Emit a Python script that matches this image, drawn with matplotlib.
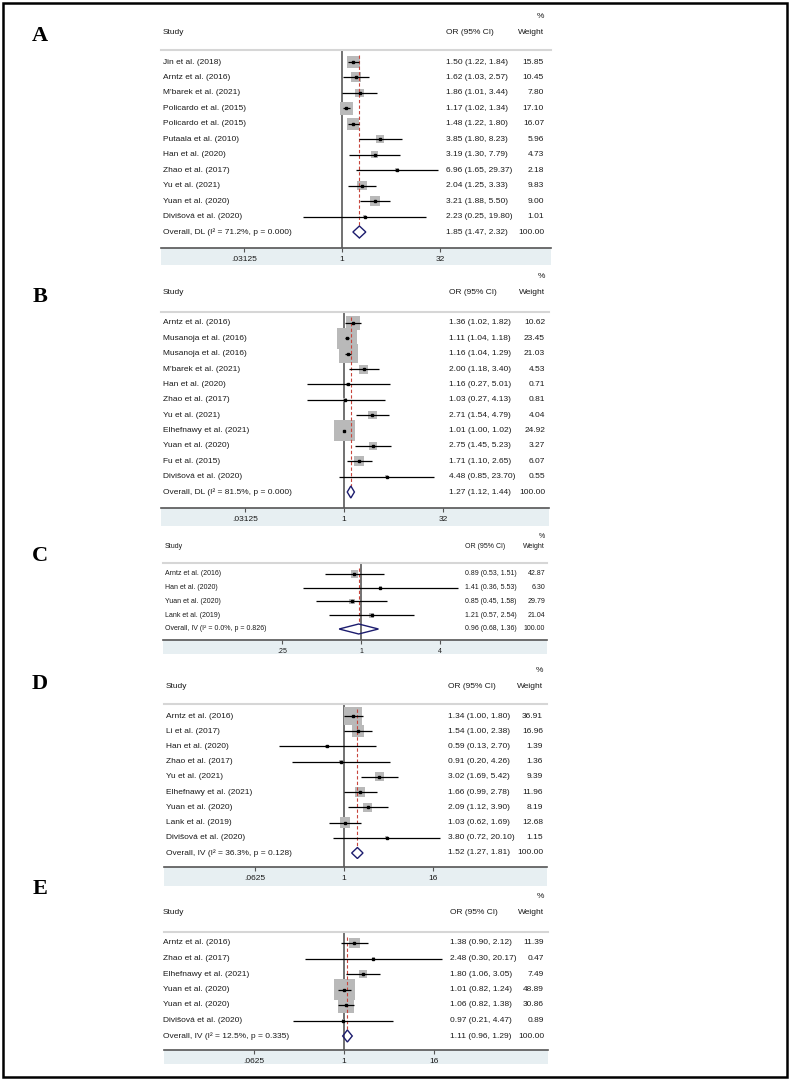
import numpy as np
import matplotlib
matplotlib.use('Agg')
import matplotlib.pyplot as plt
from matplotlib.patches import Rectangle, Polygon
from matplotlib.transforms import blended_transform_factory
from matplotlib.ticker import FixedLocator, FixedFormatter, NullLocator

plt.rcParams['font.family'] = ['Liberation Sans', 'DejaVu Sans']

W, H = 789, 1079

# ---- panel A
studies_a = ["Jin et al. (2018)", "Arntz et al. (2016)", "M'barek et al. (2021)",
             "Policardo et al. (2015)", "Policardo et al. (2015)", "Putaala et al. (2010)",
             "Han et al. (2020)", "Zhao et al. (2017)", "Yu et al. (2021)",
             "Yuan et al. (2020)", "Divišová et al. (2020)"]
or_a = [1.50, 1.62, 1.86, 1.17, 1.48, 3.85, 3.19, 6.96, 2.04, 3.21, 2.23]
lo_a = [1.22, 1.03, 1.01, 1.02, 1.22, 1.80, 1.30, 1.65, 1.25, 1.88, 0.25]
hi_a = [1.84, 2.57, 3.44, 1.34, 1.80, 8.23, 7.79, 29.37, 3.33, 5.50, 19.80]
w_a = [15.85, 10.45, 7.80, 17.10, 16.07, 5.96, 4.73, 2.18, 9.83, 9.00, 1.01]
overall_a = [1.85, 1.47, 2.32]
label_a = "Overall, DL (I² = 71.2%, p = 0.000)"

# ---- panel B
studies_b = ["Arntz et al. (2016)", "Musanoja et al. (2016)", "Musanoja et al. (2016)",
             "M'barek et al. (2021)", "Han et al. (2020)", "Zhao et al. (2017)",
             "Yu et al. (2021)", "Elhefnawy et al. (2021)", "Yuan et al. (2020)",
             "Fu et al. (2015)", "Divišová et al. (2020)"]
or_b = [1.36, 1.11, 1.16, 2.00, 1.16, 1.03, 2.71, 1.01, 2.75, 1.71, 4.48]
lo_b = [1.02, 1.04, 1.04, 1.18, 0.27, 0.27, 1.54, 1.00, 1.45, 1.10, 0.85]
hi_b = [1.82, 1.18, 1.29, 3.40, 5.01, 4.13, 4.79, 1.02, 5.23, 2.65, 23.70]
w_b = [10.62, 23.45, 21.03, 4.53, 0.71, 0.81, 4.04, 24.92, 3.27, 6.07, 0.55]
overall_b = [1.27, 1.12, 1.44]
label_b = "Overall, DL (I² = 81.5%, p = 0.000)"

# ---- panel C
studies_c = ["Arntz et al. (2016)", "Han et al. (2020)", "Yuan et al. (2020)", "Lank et al. (2019)"]
or_c = [0.89, 1.41, 0.85, 1.21]
lo_c = [0.53, 0.36, 0.45, 0.57]
hi_c = [1.51, 5.53, 1.58, 2.54]
w_c = [42.87, 6.30, 29.79, 21.04]
overall_c = [0.96, 0.68, 1.36]
label_c = "Overall, IV (I² = 0.0%, p = 0.826)"

# ---- panel D
studies_d = ["Arntz et al. (2016)", "Li et al. (2017)", "Han et al. (2020)", "Zhao et al. (2017)",
             "Yu et al. (2021)", "Elhefnawy et al. (2021)", "Yuan et al. (2020)",
             "Lank et al. (2019)", "Divišová et al. (2020)"]
or_d = [1.34, 1.54, 0.59, 0.91, 3.02, 1.66, 2.09, 1.03, 3.80]
lo_d = [1.00, 1.00, 0.13, 0.20, 1.69, 0.99, 1.12, 0.62, 0.72]
hi_d = [1.80, 2.38, 2.70, 4.26, 5.42, 2.78, 3.90, 1.69, 20.10]
w_d = [36.91, 16.96, 1.39, 1.36, 9.39, 11.96, 8.19, 12.68, 1.15]
overall_d = [1.52, 1.27, 1.81]
label_d = "Overall, IV (I² = 36.3%, p = 0.128)"

# ---- panel E
studies_e = ["Arntz et al. (2016)", "Zhao et al. (2017)", "Elhefnawy et al. (2021)",
             "Yuan et al. (2020)", "Yuan et al. (2020)", "Divišová et al. (2020)"]
or_e = [1.38, 2.48, 1.80, 1.01, 1.06, 0.97]
lo_e = [0.90, 0.30, 1.06, 0.82, 0.82, 0.21]
hi_e = [2.12, 20.17, 3.05, 1.24, 1.38, 4.47]
w_e = [11.39, 0.47, 7.49, 48.89, 30.86, 0.89]
overall_e = [1.11, 0.96, 1.29]
label_e = "Overall, IV (I² = 12.5%, p = 0.335)"

ticks_32 = [1 / 32, 1, 32]
ticklabels_32 = [".03125", "1", "32"]
ticks_4 = [0.25, 1, 4]
ticklabels_4 = [".25", "1", "4"]
ticks_16 = [1 / 16, 1, 16]
ticklabels_16 = [".0625", "1", "16"]

# pixel layout of each panel
geo = {
    'A': dict(left=161, right=551, x1=342, ppd=19.6, y_pct=16, y_head=32, y_hline=50, y_first=62,
              y_last=232, y_axis=248, y_band=265, study_x=163, or_x=446, w_x=544, fs=6.0,
              box=3.1, dia=6, letter_y=36),
    'B': dict(left=161, right=549, x1=344, ppd=19.8, y_pct=276, y_head=293, y_hline=312, y_first=323,
              y_last=492, y_axis=508, y_band=526, study_x=163, or_x=449, w_x=545, fs=6.0,
              box=4.2, dia=6, letter_y=297),
    'C': dict(left=163, right=547, x1=361, ppd=39.3, y_pct=536, y_head=547, y_hline=563, y_first=574,
              y_last=629, y_axis=640, y_band=654, study_x=165, or_x=465, w_x=545, fs=5.0,
              box=1.07, dia=5, letter_y=556),
    'D': dict(left=164, right=547, x1=344, ppd=22.2, y_pct=671, y_head=686, y_hline=704, y_first=716,
              y_last=853, y_axis=867, y_band=886, study_x=166, or_x=448, w_x=543, fs=6.0,
              box=2.95, dia=5.5, letter_y=684),
    'E': dict(left=164, right=548, x1=344, ppd=22.5, y_pct=897, y_head=913, y_hline=932, y_first=943,
              y_last=1036, y_axis=1050, y_band=1064, study_x=163, or_x=450, w_x=544, fs=6.0,
              box=3.0, dia=6, letter_y=889),
}

TXT = '#1a1a1a'
BOX = '#b9b9b9'
NAVY = '#1c1c6e'
RED = '#c8453c'
BAND = '#e7eff2'


def forest(fig, letter, studies, ors, los, his, ws, overall, ov_label, ticks, ticklabels):
    g = geo[letter]
    n = len(studies)
    sp = (g['y_last'] - g['y_first']) / n
    fs = g['fs']
    ax = fig.add_axes([g['left'] / W, 1 - g['y_axis'] / H,
                       (g['right'] - g['left']) / W, (g['y_axis'] - g['y_hline']) / H])
    ax.set_xscale('log', base=2)
    ax.set_xlim(2 ** ((g['left'] - g['x1']) / g['ppd']), 2 ** ((g['right'] - g['x1']) / g['ppd']))
    ax.set_ylim((g['y_axis'] - g['y_first']) / sp, (g['y_hline'] - g['y_first']) / sp)

    for s in ['left', 'right']:
        ax.spines[s].set_visible(False)
    ax.spines['top'].set_color('#d6d6d6')
    ax.spines['top'].set_linewidth(1.5)
    ax.spines['bottom'].set_color('#555555')
    ax.spines['bottom'].set_linewidth(1.2)
    ax.yaxis.set_major_locator(NullLocator())
    ax.xaxis.set_major_locator(FixedLocator(ticks))
    ax.xaxis.set_major_formatter(FixedFormatter(ticklabels))
    ax.xaxis.set_minor_locator(NullLocator())
    ax.tick_params(axis='x', direction='out', length=3, width=0.8, color='#555555',
                   labelsize=fs, labelcolor=TXT, pad=2.5)

    rows = np.arange(n)
    ws = np.asarray(ws)
    side = g['box'] * np.sqrt(ws) * 0.72
    ax.axvline(1, color='#4a4a4a', lw=1.1, zorder=1)
    ax.scatter(ors, rows, marker='s', s=side ** 2, color=BOX, linewidths=0, zorder=2, clip_on=False)
    ax.hlines(rows, los, his, color='black', lw=0.9, zorder=3)
    ax.plot(ors, rows, 's', color='black', markersize=2.0, zorder=4)

    est, lo, hi = overall
    dh = g['dia'] / sp
    ax.vlines(est, (g['y_hline'] + 5 - g['y_first']) / sp, n - dh, color=RED, lw=0.8,
              linestyles=(0, (3, 2)), zorder=2.5)
    ax.add_patch(Polygon([(lo, n), (est, n - dh), (hi, n), (est, n + dh)], closed=True,
                         fill=False, edgecolor=NAVY, lw=1.0, zorder=5))

    tr = blended_transform_factory(fig.transFigure, ax.transData)
    labels = list(studies) + [ov_label]
    or_txt = ["{0:.2f} ({1:.2f}, {2:.2f})".format(o, l, h) for o, l, h in zip(ors, los, his)]
    or_txt.append("{0:.2f} ({1:.2f}, {2:.2f})".format(est, lo, hi))
    w_txt = ["{0:.2f}".format(w) for w in ws] + ["{0:.2f}".format(100.0)]
    for i in range(n + 1):
        ax.text(g['study_x'] / W, i, labels[i], transform=tr, ha='left', va='center', fontsize=fs, color=TXT)
        ax.text(g['or_x'] / W, i, or_txt[i], transform=tr, ha='left', va='center', fontsize=fs, color=TXT)
        ax.text(g['w_x'] / W, i, w_txt[i], transform=tr, ha='right', va='center', fontsize=fs, color=TXT)

    fig.text(g['study_x'] / W, 1 - g['y_head'] / H, 'Study', ha='left', va='center', fontsize=fs, color=TXT)
    fig.text(g['or_x'] / W, 1 - g['y_head'] / H, 'OR (95% CI)', ha='left', va='center', fontsize=fs, color=TXT)
    fig.text(g['w_x'] / W, 1 - g['y_head'] / H, 'Weight', ha='right', va='center', fontsize=fs, color=TXT)
    fig.text(g['w_x'] / W, 1 - g['y_pct'] / H, '%', ha='right', va='center', fontsize=fs, color=TXT)

    fig.patches.append(Rectangle((g['left'] / W, 1 - g['y_band'] / H), (g['right'] - g['left']) / W,
                                 (g['y_band'] - g['y_axis']) / H, transform=fig.transFigure,
                                 facecolor=BAND, edgecolor='none', zorder=-1))
    fig.text(40 / W, 1 - g['letter_y'] / H, letter, ha='center', va='center', fontsize=16,
             fontweight='bold', family='Liberation Serif', color='black')
    return ax


fig = plt.figure(figsize=(W / 100, H / 100), dpi=100)
fig.patch.set_facecolor('white')

forest(fig, 'A', studies_a, or_a, lo_a, hi_a, w_a, overall_a, label_a, ticks_32, ticklabels_32)
forest(fig, 'B', studies_b, or_b, lo_b, hi_b, w_b, overall_b, label_b, ticks_32, ticklabels_32)
forest(fig, 'C', studies_c, or_c, lo_c, hi_c, w_c, overall_c, label_c, ticks_4, ticklabels_4)
forest(fig, 'D', studies_d, or_d, lo_d, hi_d, w_d, overall_d, label_d, ticks_16, ticklabels_16)
forest(fig, 'E', studies_e, or_e, lo_e, hi_e, w_e, overall_e, label_e, ticks_16, ticklabels_16)

fig.patches.append(Rectangle((2.5 / W, 2.5 / H), 784 / W, 1074 / H, transform=fig.transFigure,
                             fill=False, edgecolor='black', lw=1.8, zorder=10))

fig.savefig('out.png', dpi=100)
